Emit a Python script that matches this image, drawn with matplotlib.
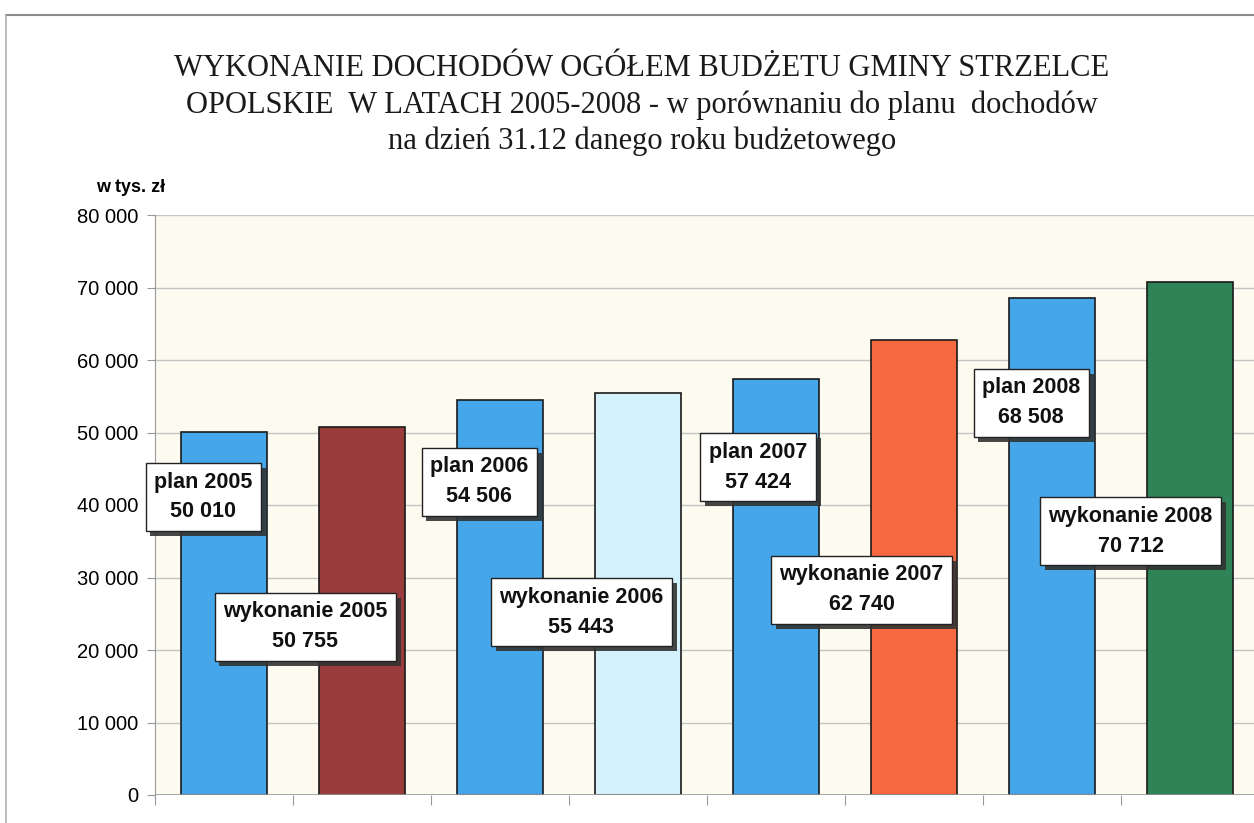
import matplotlib
matplotlib.use("Agg")
import matplotlib.pyplot as plt
import matplotlib.patheffects as pe
from matplotlib.lines import Line2D
from matplotlib.ticker import FuncFormatter, MultipleLocator

# data (w tys. zł)
labels = ["plan 2005", "wykonanie 2005", "plan 2006", "wykonanie 2006",
          "plan 2007", "wykonanie 2007", "plan 2008", "wykonanie 2008"]
values = [50010, 50755, 54506, 55443, 57424, 62740, 68508, 70712]
colors = ["#45a6ea", "#9a3b3c", "#45a6ea", "#d4f2fb",
          "#45a6ea", "#f56840", "#45a6ea", "#2e8456"]

# where the callout boxes sit (offset from bar centre, height in data units)
label_dx = [-0.15, -0.41, -0.15, -0.41, -0.13, -0.38, -0.15, -0.43]
label_y = [41100, 23200, 43200, 25200, 45200, 28300, 54100, 36400]

title = ("WYKONANIE DOCHODÓW OGÓŁEM BUDŻETU GMINY STRZELCE\n"
         "OPOLSKIE  W LATACH 2005-2008 - w porównaniu do planu  dochodów\n"
         "na dzień 31.12 danego roku budżetowego")

plt.rcParams["font.family"] = ["Liberation Sans", "DejaVu Sans"]

fig = plt.figure(figsize=(12.54, 8.23), dpi=100)
fig.patch.set_facecolor("white")

# chart frame (only top and left edges visible in the scan)
fig.add_artist(Line2D([6 / 1254, 1], [1 - 15 / 823, 1 - 15 / 823],
                      color="#8a8a8a", lw=1.5))
fig.add_artist(Line2D([6 / 1254, 6 / 1254], [0, 1 - 15 / 823],
                      color="#b0b0b0", lw=1.2))

ax = fig.add_axes([155 / 1254, 28 / 823, 1104 / 1254, 580 / 823])
ax.set_facecolor("#fdfbef")

x = list(range(len(values)))
ax.bar(x, values, width=0.63, color=colors, edgecolor="#1a1a1a",
       linewidth=1.2, zorder=3)

ax.set_xlim(-0.5, len(values) - 0.5)
ax.set_ylim(0, 80000)
ax.yaxis.set_major_locator(MultipleLocator(10000))
ax.yaxis.set_major_formatter(
    FuncFormatter(lambda v, p: f"{int(v):,}".replace(",", " ")))
ax.grid(axis="y", color="#c4c4c4", lw=1, zorder=0)
ax.set_xticks([i + 0.5 for i in range(-1, len(values))])
ax.set_xticklabels([])
ax.tick_params(axis="x", direction="out", length=7, color="#999999")
ax.tick_params(axis="y", direction="out", length=6, color="#999999",
               labelsize=14.5, pad=6)
for s in ["top", "right", "bottom"]:
    ax.spines[s].set_visible(False)
ax.spines["left"].set_color("#999999")
ax.axhline(0, color="#999999", lw=1.2, zorder=4)

for i, (lab, val) in enumerate(zip(labels, values)):
    txt = f"{lab}\n{val:,}".replace(",", " ")
    t = ax.text(i + label_dx[i], label_y[i], txt, ha="center", va="center",
                fontsize=15.5, fontweight="bold", color="#111111",
                linespacing=1.55, zorder=6,
                bbox=dict(boxstyle="square,pad=0.4", fc="white",
                          ec="#222222", lw=1))
    t.get_bbox_patch().set_path_effects(
        [pe.SimplePatchShadow(offset=(3.5, -3.5), shadow_rgbFace="#333333",
                              alpha=0.9), pe.Normal()])

fig.text(0.512, 1 - 105 / 823, title, ha="center", va="center",
         fontsize=22, family=["Liberation Serif", "DejaVu Serif"],
         linespacing=1.33, color="#1a1a1a")
fig.text(96 / 1254, 1 - 188 / 823, "w tys. zł", ha="left", va="center",
         fontsize=13, fontweight="bold")

fig.savefig("out.png", dpi=100)
